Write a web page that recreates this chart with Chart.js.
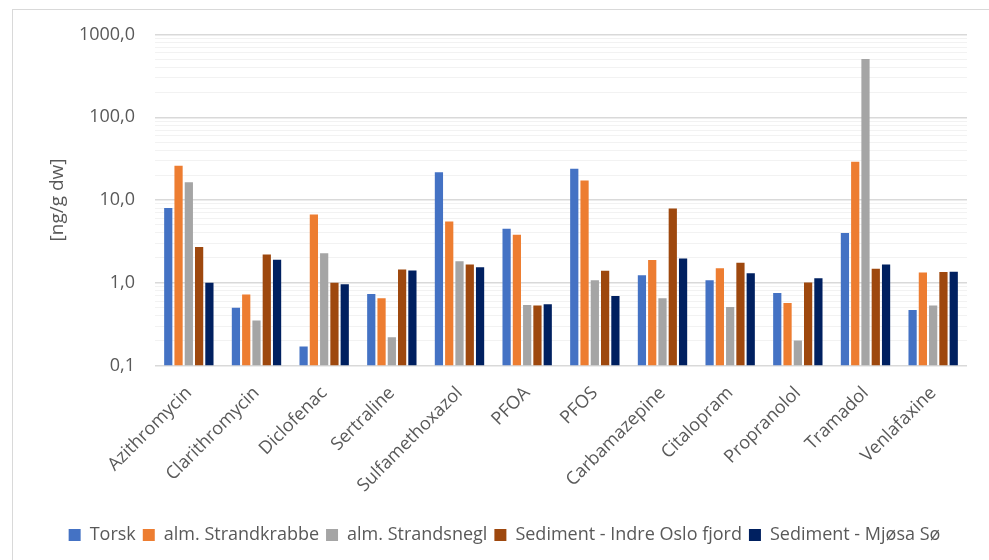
<!DOCTYPE html>
<html>
<head>
<meta charset="utf-8">
<script src="https://cdn.jsdelivr.net/npm/chart.js@4.4.0/dist/chart.umd.min.js"></script>
<style>
  body { margin: 0; background: #fff; }
  #wrap { position: relative; width: 989px; height: 560px; overflow: hidden; }
  #frame { position: absolute; left: 12px; top: 9px; width: 1000px; height: 600px; border: 1px solid #d9d9d9; }
  #chart { position: absolute; left: 0; top: 0; }
</style>
</head>
<body>
<div id="wrap">
  <div id="frame"></div>
  <canvas id="chart" width="989" height="560"></canvas>
</div>
<script>
const categories = ['Azithromycin', 'Clarithromycin', 'Diclofenac', 'Sertraline', 'Sulfamethoxazol',
  'PFOA', 'PFOS', 'Carbamazepine', 'Citalopram', 'Propranolol', 'Tramadol', 'Venlafaxine'];

const torsk        = [8.0, 0.50, 0.17, 0.73, 21.6, 4.5, 23.8, 1.23, 1.07, 0.75, 4.0, 0.47];
const strandkrabbe = [26.0, 0.72, 6.7, 0.65, 5.5, 3.8, 17.2, 1.88, 1.50, 0.57, 29.0, 1.33];
const strandsnegl  = [16.4, 0.35, 2.27, 0.22, 1.82, 0.54, 1.07, 0.65, 0.51, 0.20, 507, 0.53];
const osloFjord    = [2.7, 2.19, 1.0, 1.45, 1.66, 0.53, 1.40, 7.9, 1.75, 1.01, 1.48, 1.35];
const mjosa        = [1.0, 1.90, 0.96, 1.41, 1.54, 0.55, 0.69, 1.96, 1.30, 1.13, 1.66, 1.36];

const majorTicks = [0.1, 1, 10, 100, 1000];
const minorSteps = [2, 3, 4, 5, 6, 7, 8, 9];

const textColor = '#595959';
const fontFamily = '"Open Sans", sans-serif';

function series(label, data, color) {
  return {
    label: label,
    data: data,
    backgroundColor: color,
    barPercentage: 0.8,
    categoryPercentage: 0.76
  };
}

new Chart(document.getElementById('chart'), {
  type: 'bar',
  data: {
    labels: categories,
    datasets: [
      series('Torsk', torsk, '#4472c4'),
      series('alm. Strandkrabbe', strandkrabbe, '#ed7d31'),
      series('alm. Strandsnegl', strandsnegl, '#a5a5a5'),
      series('Sediment - Indre Oslo fjord', osloFjord, '#9e480e'),
      series('Sediment - Mjøsa Sø', mjosa, '#002060')
    ]
  },
  options: {
    responsive: false,
    animation: false,
    layout: { padding: { left: 42, right: 22, top: 34.5, bottom: 6 } },
    plugins: {
      tooltip: { enabled: false },
      legend: {
        position: 'bottom',
        labels: {
          boxWidth: 12,
          boxHeight: 12,
          padding: 7,
          color: textColor,
          font: { family: fontFamily, size: 18 }
        }
      }
    },
    scales: {
      x: {
        grid: { display: false },
        border: { display: false },
        ticks: {
          color: textColor,
          font: { family: fontFamily, size: 18 },
          minRotation: 45,
          maxRotation: 45,
          autoSkip: false,
          padding: 9
        },
        afterFit: (scale) => { scale.height = 153.5; scale.paddingLeft = 0; scale.paddingRight = 0; }
      },
      y: {
        type: 'logarithmic',
        min: 0.1,
        max: 1000,
        border: { display: false },
        grid: {
          drawTicks: false,
          color: (ctx) => majorTicks.includes(ctx.tick.value) ? '#d9d9d9' : '#f2f2f2',
          lineWidth: (ctx) => majorTicks.includes(ctx.tick.value) ? 1.5 : 1
        },
        afterBuildTicks: (scale) => {
          const ticks = [];
          majorTicks.forEach((m, i) => {
            ticks.push({ value: m, major: true });
            if (i < majorTicks.length - 1) {
              minorSteps.forEach(s => ticks.push({ value: +(m * s).toPrecision(3) }));
            }
          });
          scale.ticks = ticks;
        },
        ticks: {
          color: textColor,
          font: { family: fontFamily, size: 18 },
          padding: 20,
          autoSkip: false,
          callback: (value) => majorTicks.includes(value) ? value.toFixed(1).replace('.', ',') : ''
        },
        title: {
          display: true,
          text: '[ng/g dw]',
          color: textColor,
          font: { family: fontFamily, size: 19 },
          padding: { top: 4, bottom: 0 }
        },
        afterFit: (scale) => { scale.width = 113; scale.paddingTop = 0; scale.paddingBottom = 0; }
      }
    }
  }
});
</script>
</body>
</html>
